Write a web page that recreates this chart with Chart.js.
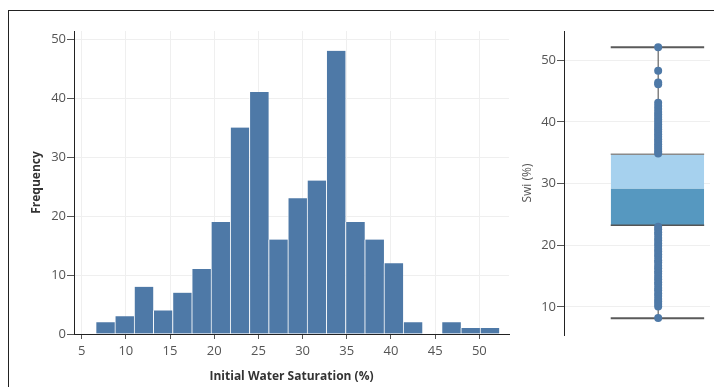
<!DOCTYPE html>
<html>
<head>
<meta charset="utf-8">
<title>Initial Water Saturation</title>
<script src="https://cdn.jsdelivr.net/npm/chart.js@4.4.1/dist/chart.umd.min.js"></script>
<style>
    body { margin: 0; background: #fff; }
    #frame { position: absolute; left: 8px; top: 10px; width: 706px; height: 377px; border-top: 1px solid #222; border-left: 1px solid #222; box-sizing: border-box; }
    #hist-chart { position: absolute; left: 9px; top: 11px; }
    #swi-chart { position: absolute; left: 515px; top: 11px; }
</style>
</head>
<body>
<div id="frame"></div>
<canvas id="hist-chart" width="506" height="376"></canvas>
<canvas id="swi-chart" width="199" height="376"></canvas>

<script>
// Histogram bins (edges in %) and counts per bin
const binEdges = [6.58, 8.76, 10.93, 13.11, 15.28, 17.46, 19.63, 21.81, 23.98, 26.16, 28.33,
    30.51, 32.68, 34.86, 37.03, 39.21, 41.38, 43.56, 45.73, 47.91, 50.08, 52.26];
const binCounts = [2, 3, 8, 4, 7, 11, 19, 35, 41, 16, 23, 26, 48, 19, 16, 12, 2, 0, 2, 1, 1];

const histXTicks = [5, 10, 15, 20, 25, 30, 35, 40, 45, 50];
const histYTicks = [0, 10, 20, 30, 40, 50];

// Box plot summary for Swi (%)
const swiMin = 8.17;
const swiQ1 = 23.24;
const swiMedian = 29.2;
const swiQ3 = 34.77;
const swiMax = 52.1;

// Individual wells outside the box
const swiAbove = [52.1, 48.3, 46.4, 46.1, 43.1, 42.6, 42.1, 41.6, 41.2, 40.8, 40.4, 40.0, 39.6,
    39.2, 38.8, 38.4, 38.0, 37.6, 37.2, 36.8, 36.4, 36.0, 35.6, 35.2, 34.9];
const swiBelow = [23.0, 22.6, 22.1, 21.7, 21.2, 20.8, 20.3, 19.9, 19.4, 19.0, 18.5, 18.1, 17.6,
    17.2, 16.7, 16.3, 15.8, 15.4, 14.9, 14.5, 14.0, 13.6, 13.1, 12.7, 12.2, 11.8, 11.3, 10.9,
    10.5, 10.1, 8.2];

const swiYTicks = [10, 20, 30, 40, 50];

const barBlue = '#4e79a7';
const tickGray = '#555';
const gridGray = '#efefef';

Chart.defaults.font.family = "'Open Sans', sans-serif";
Chart.defaults.color = tickGray;

function setTicks(values) {
    return function(scale) {
        scale.ticks = values.map(v => ({ value: v }));
    };
}

// --- Histogram ---
function drawHistogram() {
    const bars = binCounts.map((c, i) => ({ x: (binEdges[i] + binEdges[i + 1]) / 2, y: c }));

    new Chart(document.getElementById('hist-chart'), {
        type: 'bar',
        data: {
            datasets: [{
                data: bars,
                backgroundColor: barBlue,
                borderColor: 'rgba(255,255,255,0.8)',
                borderWidth: { left: 1, top: 0, right: 0, bottom: 0 },
                borderSkipped: false,
                barPercentage: 1,
                categoryPercentage: 1
            }]
        },
        options: {
            responsive: false,
            animation: false,
            layout: { padding: { top: 20, right: 6, left: 0, bottom: 0 } },
            plugins: { legend: { display: false }, tooltip: { enabled: false } },
            scales: {
                x: {
                    type: 'linear',
                    offset: false,
                    min: 4.13,
                    max: 53.36,
                    afterBuildTicks: setTicks(histXTicks),
                    afterFit: s => { s.height = 53; },
                    grid: { offset: false, color: gridGray, tickColor: tickGray, tickLength: 5 },
                    border: { color: '#222', width: 1 },
                    ticks: { font: { size: 13 }, padding: 4, maxRotation: 0 },
                    title: {
                        display: true,
                        text: 'Initial Water Saturation (%)',
                        color: '#333',
                        font: { size: 12, weight: 'bold' },
                        padding: { top: 0, bottom: 3 }
                    }
                },
                y: {
                    min: 0,
                    max: 51.36,
                    afterBuildTicks: setTicks(histYTicks),
                    afterFit: s => { s.width = 65; },
                    grid: { color: gridGray, tickColor: tickGray, tickLength: 7 },
                    border: { color: '#222', width: 1 },
                    ticks: { font: { size: 13 }, padding: 1 },
                    title: {
                        display: true,
                        text: 'Frequency',
                        color: '#333',
                        font: { size: 12, weight: 'bold' },
                        padding: { top: 20, bottom: 0 }
                    }
                }
            }
        }
    });
}

// --- Box plot with individual points ---
function drawBoxPlot() {
    const mid = 0.645;
    const boxL = 0.32;
    const boxR = 0.96;
    const hline = y => [{ x: boxL, y: y }, { x: boxR, y: y }];
    const lineSet = (data, color, width, extra) => Object.assign({
        data: data,
        borderColor: color,
        borderWidth: width,
        pointRadius: 0,
        fill: false
    }, extra || {});

    // first dataset is drawn on top
    const datasets = [
        {
            data: swiAbove.concat(swiBelow).map(v => ({ x: mid, y: v })),
            showLine: false,
            pointRadius: 4,
            pointBackgroundColor: barBlue,
            pointBorderWidth: 0
        },
        lineSet([{ x: mid, y: swiQ3 }, { x: mid, y: swiMax }], '#444', 1),
        lineSet([{ x: mid, y: swiMin }, { x: mid, y: swiQ1 }], '#444', 1),
        lineSet(hline(swiMax), '#5a5a5a', 2),
        lineSet(hline(swiMin), '#5a5a5a', 2),
        lineSet(hline(swiQ3), '#8a8a8a', 1.5, { fill: { value: swiMedian }, backgroundColor: '#a6d1ee' }),
        lineSet(hline(swiQ1), '#555', 1.5, { fill: { value: swiMedian }, backgroundColor: '#5698c0' })
    ];

    new Chart(document.getElementById('swi-chart'), {
        type: 'line',
        data: { datasets: datasets },
        options: {
            responsive: false,
            animation: false,
            layout: { padding: { top: 20, right: 0, left: 0, bottom: 52 } },
            plugins: { legend: { display: false }, tooltip: { enabled: false } },
            scales: {
                x: {
                    type: 'linear',
                    display: false,
                    min: 0,
                    max: 1
                },
                y: {
                    min: 5.46,
                    max: 54.75,
                    afterBuildTicks: setTicks(swiYTicks),
                    afterFit: s => { s.width = 49; },
                    grid: { color: gridGray, tickColor: tickGray, tickLength: 7 },
                    border: { color: '#222', width: 1 },
                    ticks: { font: { size: 13 }, padding: 1 },
                    title: {
                        display: true,
                        text: 'Swi (%)',
                        color: tickGray,
                        font: { size: 12 },
                        padding: { top: 5, bottom: 0 }
                    }
                }
            }
        }
    });
}

drawHistogram();
drawBoxPlot();
</script>
</body>
</html>
